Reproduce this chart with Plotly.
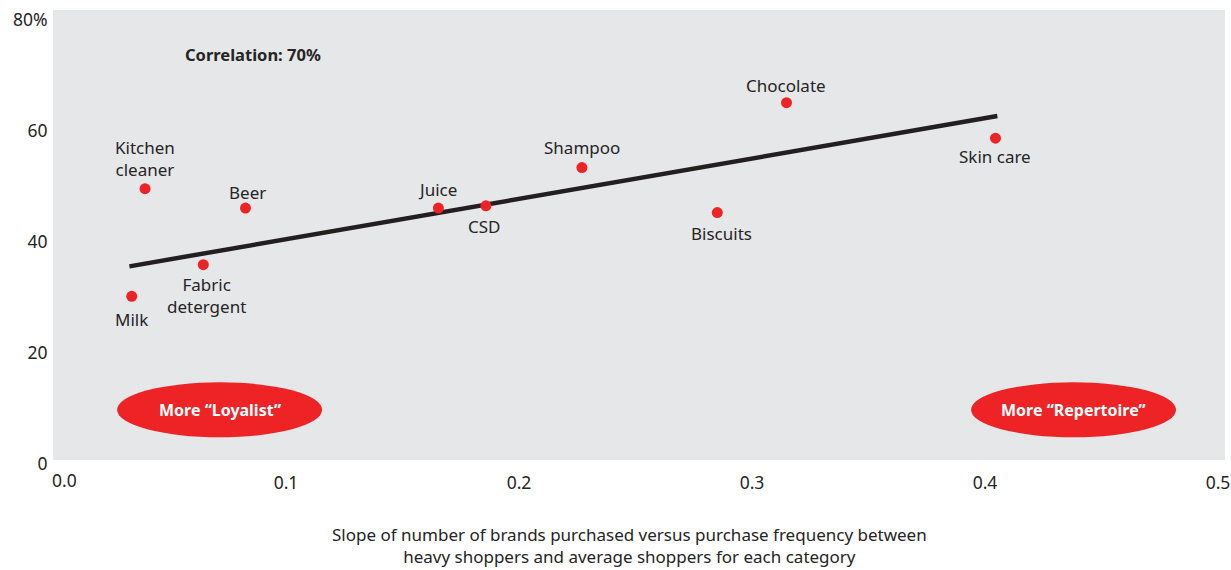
import plotly.graph_objects as go

# Category scatter: brand-repertoire slope vs. share (%)
categories = ["Kitchen<br>cleaner", "Beer", "Fabric<br>detergent", "Milk", "Juice",
              "CSD", "Shampoo", "Biscuits", "Chocolate", "Skin care"]
slope_x = [0.0395, 0.0826, 0.0645, 0.0338, 0.1654, 0.1858, 0.2270, 0.2851, 0.3148, 0.4045]
share_y = [48.9, 45.4, 35.2, 29.5, 45.4, 45.8, 52.7, 44.6, 64.4, 58.0]

# Fitted trend line endpoints
trend_x = [0.0328, 0.4053]
trend_y = [34.9, 62.0]

# Axis ticks
x_ticks = [0.0, 0.1, 0.2, 0.3, 0.4, 0.5]
x_tick_text = ["", "0.1", "0.2", "0.3", "0.4", "0.5"]
y_ticks = [0, 20, 40, 60, 80]
y_tick_text = ["0", "20", "40", "60", "80%"]

# Label offsets (px) relative to each point
label_shift = {
    "Kitchen<br>cleaner": (0, 30),
    "Beer": (2, 16),
    "Fabric<br>detergent": (3, -31),
    "Milk": (0, -23),
    "Juice": (-1, 19),
    "CSD": (-1, -21),
    "Shampoo": (0, 20),
    "Biscuits": (4, -21),
    "Chocolate": (0, 17),
    "Skin care": (0, -18),
}

TEXT = "#262425"
RED = "#ee2326"
FONT = "'Noto Sans', Lato, sans-serif"

fig = go.Figure()

fig.add_trace(go.Scatter(
    x=trend_x, y=trend_y, mode="lines",
    line=dict(color="#231f20", width=4.5),
    hoverinfo="skip", showlegend=False,
))

fig.add_trace(go.Scatter(
    x=slope_x, y=share_y, mode="markers",
    marker=dict(color=RED, size=11, line=dict(width=0)),
    text=categories, hoverinfo="text", showlegend=False,
))

annotations = []
for name, xv, yv in zip(categories, slope_x, share_y):
    dx, dy = label_shift[name]
    annotations.append(dict(
        x=xv, y=yv, xref="x", yref="y", text=name, showarrow=False,
        xshift=dx, yshift=dy, align="center",
        font=dict(family=FONT, size=17, color=TEXT),
    ))

annotations.append(dict(
    x=0.056, y=73.0, xref="x", yref="y", xanchor="left",
    text="<b>Correlation: 70%</b>", showarrow=False,
    font=dict(family=FONT, size=16.5, color=TEXT),
))

# Origin label of the x axis, nudged right so it clears the y-axis "0"
annotations.append(dict(
    x=x_ticks[0], y=0, xref="x", yref="y", yanchor="middle",
    text="0.0", showarrow=False, xshift=11, yshift=-20,
    font=dict(family=FONT, size=17.5, color=TEXT),
))

# X-axis caption, two centred lines under the tick labels
annotations.append(dict(
    x=0.4923, y=-0.191, xref="paper", yref="paper", yanchor="middle",
    text="Slope of number of brands purchased versus purchase frequency between<br>"
         "heavy shoppers and average shoppers for each category",
    showarrow=False, align="center",
    font=dict(family=FONT, size=17, color=TEXT),
))

# Red ellipse callouts
shapes = []
callouts = [("More \u201cLoyalist\u201d", 0.0275, 0.1155),
            ("More \u201cRepertoire\u201d", 0.3940, 0.4820)]
for label, x0, x1 in callouts:
    shapes.append(dict(
        type="circle", xref="x", yref="y", x0=x0, x1=x1, y0=4.1, y1=14.0,
        fillcolor=RED, line=dict(width=0), layer="above",
    ))
    annotations.append(dict(
        x=(x0 + x1) / 2, y=9.05, xref="x", yref="y", text=f"<b>{label}</b>",
        showarrow=False, font=dict(family=FONT, size=16, color="white"),
    ))

fig.update_layout(
    width=1231, height=570,
    margin=dict(l=53, r=6, t=10, b=110),
    paper_bgcolor="white",
    plot_bgcolor="#e6e7e9",
    font=dict(family=FONT, color=TEXT),
    shapes=shapes,
    annotations=annotations,
    xaxis=dict(
        range=[0, 0.503], tickvals=x_ticks, ticktext=x_tick_text,
        showgrid=False, zeroline=False, showline=False,
        ticks="outside", ticklen=7, tickcolor="rgba(0,0,0,0)",
        tickfont=dict(family=FONT, size=17.5, color=TEXT),
        automargin=False, fixedrange=True,
    ),
    yaxis=dict(
        range=[0, 81.1], tickvals=y_ticks, ticktext=y_tick_text,
        showgrid=False, zeroline=False, showline=False,
        ticks="outside", ticklen=1, tickcolor="rgba(0,0,0,0)",
        ticklabelshift=4,
        tickfont=dict(family=FONT, size=17.5, color=TEXT),
        automargin=False, fixedrange=True,
    ),
)

fig.write_html("out.html")
